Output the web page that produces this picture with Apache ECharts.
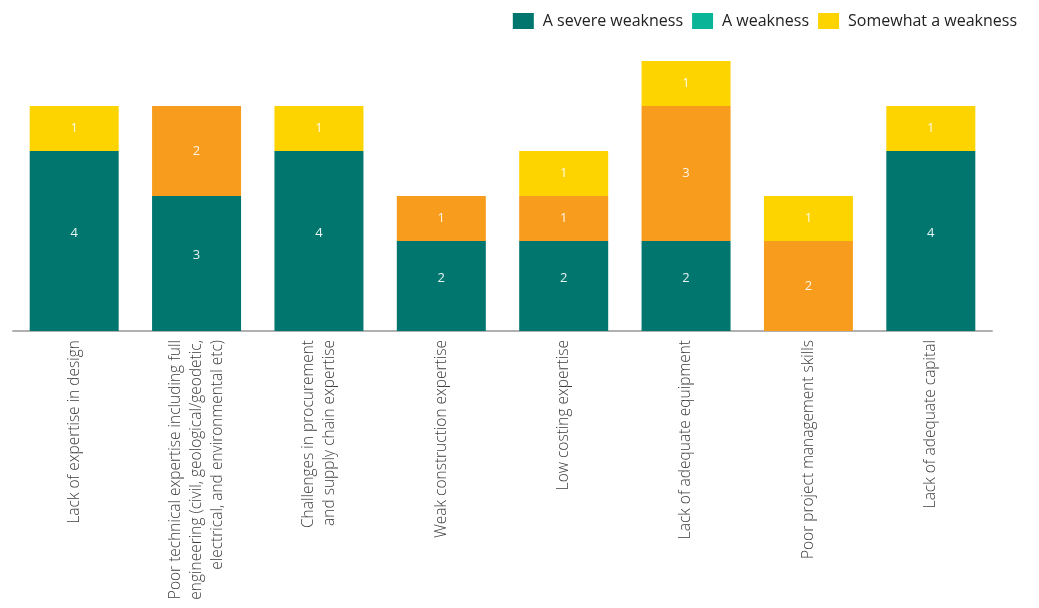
<!DOCTYPE html>
<html>
<head>
<meta charset="utf-8">
<script src="https://cdn.jsdelivr.net/npm/echarts@6/dist/echarts.min.js"></script>
<style>
  html, body { margin: 0; padding: 0; background: #fff; }
  #chart { width: 1039px; height: 608px; }
</style>
</head>
<body>
<div id="chart"></div>
<script>
// categories (line breaks as in the original labels)
var categories = [
  'Lack of expertise in design',
  'Poor technical expertise including full\nengineering (civil, geological/geodetic,\nelectrical, and environmental etc)',
  'Challenges in procurement\nand supply chain expertise',
  'Weak construction expertise',
  'Low costing expertise',
  'Lack of adequate equipment',
  'Poor project management skills',
  'Lack of adequate capital'
];
var seriesNames = ['A severe weakness', 'A weakness', 'Somewhat a weakness'];
var severe   = [4, 3, 4, 2, 2, 2, 0, 4];
var weakness = [0, 2, 0, 1, 1, 3, 2, 0];
var somewhat = [1, 0, 1, 0, 1, 1, 1, 1];

var myChart = echarts.init(document.getElementById('chart'));

var font = '"Open Sans", sans-serif';

function labelOf(p) {
  return p.value ? p.value : '';
}

var option = {
  animation: false,
  textStyle: { fontFamily: font },
  legend: {
    right: 17,
    top: 8,
    icon: 'rect',
    itemWidth: 21,
    itemHeight: 16,
    itemGap: 9,
    textStyle: { fontSize: 16, color: '#222', fontFamily: font, padding: [0, 0, 0, 4] },
    data: [
      { name: seriesNames[0], itemStyle: { color: '#00766f' } },
      // legend swatch differs from the bar colour in the original
      { name: seriesNames[1], itemStyle: { color: '#0ab496' } },
      { name: seriesNames[2], itemStyle: { color: '#fdd300' } }
    ]
  },
  grid: {
    left: 13,
    right: 47,
    top: 61,
    bottom: 277
  },
  xAxis: {
    type: 'category',
    data: categories,
    axisLine: { lineStyle: { color: '#b0b0b0', width: 2 } },
    axisTick: { show: false },
    axisLabel: {
      interval: 0,
      rotate: 90,
      margin: 9,
      fontSize: 15.5,
      lineHeight: 21,
      color: '#3c3c3c',
      fontFamily: font,
      fontWeight: 300
    }
  },
  yAxis: {
    type: 'value',
    min: 0,
    max: 6,
    show: false,
    splitLine: { show: false }
  },
  series: [
    {
      name: seriesNames[0],
      type: 'bar',
      stack: 'total',
      barWidth: 89,
      data: severe,
      itemStyle: { color: '#00766f' },
      label: { show: true, position: 'inside', offset: [0, -8], color: '#e8f4f2', fontSize: 13, formatter: labelOf }
    },
    {
      name: seriesNames[1],
      type: 'bar',
      stack: 'total',
      barWidth: 89,
      data: weakness,
      itemStyle: { color: '#f79c1d' },
      label: { show: true, position: 'inside', color: '#fff5e8', fontSize: 13, formatter: labelOf }
    },
    {
      name: seriesNames[2],
      type: 'bar',
      stack: 'total',
      barWidth: 89,
      data: somewhat,
      itemStyle: { color: '#fdd300' },
      label: { show: true, position: 'inside', color: '#fffbe6', fontSize: 13, formatter: labelOf }
    }
  ]
};

myChart.setOption(option);
</script>
</body>
</html>
